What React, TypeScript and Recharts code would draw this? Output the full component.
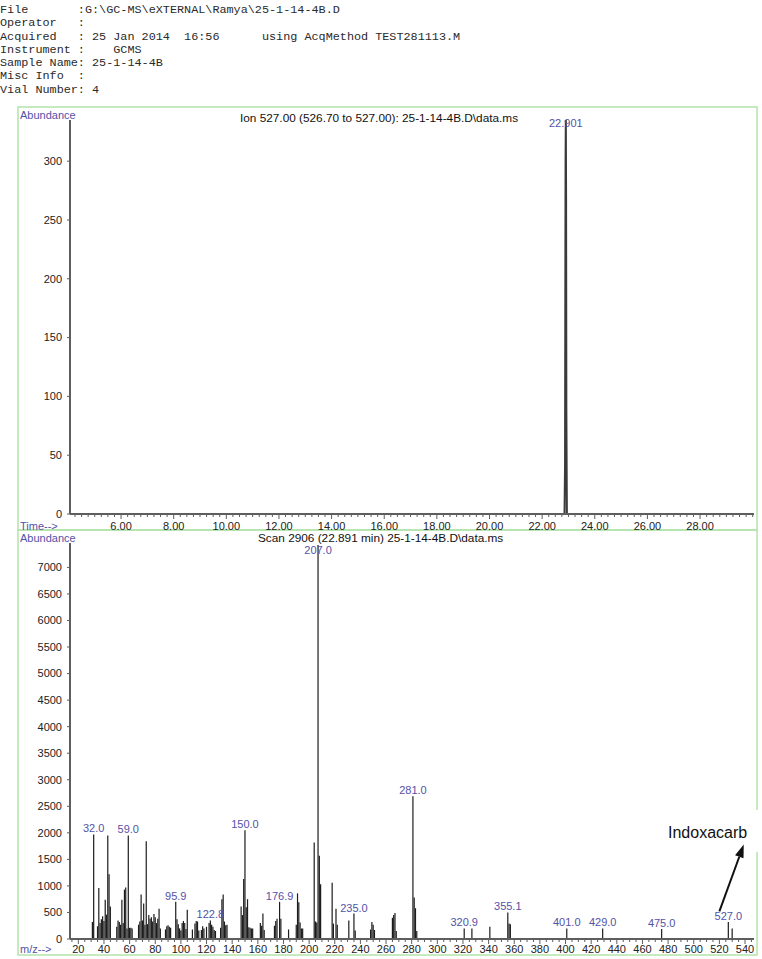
import React from "react";
import {
  Bar,
  ComposedChart,
  LabelList,
  Line,
  ReferenceLine,
  XAxis,
  YAxis,
} from "recharts";

const headerLines = [
  "File       :G:\\GC-MS\\eXTERNAL\\Ramya\\25-1-14-4B.D",
  "Operator   :",
  "Acquired   : 25 Jan 2014  16:56      using AcqMethod TEST281113.M",
  "Instrument :    GCMS",
  "Sample Name: 25-1-14-4B",
  "Misc Info  :",
  "Vial Number: 4",
];

// extracted ion chromatogram, m/z 527
const ionTimes = [4.06, 22.85, 22.87, 22.88, 22.89, 22.9, 22.91, 22.92, 22.94, 30.05];
const ionAbundance = [0, 0, 40, 180, 300, 336, 270, 90, 0, 0];
const ionPeakTime = 22.9;
const ionPeakText = "22.901";
const ionYTicks = [0, 50, 100, 150, 200, 250, 300];
const timeLabels = [6, 8, 10, 12, 14, 16, 18, 20, 22, 24, 26, 28];

// mass spectrum, scan 2906
const mzValues = [
  31, 32, 35, 36, 37, 38, 39, 40, 41, 42, 43, 44, 45, 50, 51, 52, 53, 54, 55, 56,
  57, 58, 59, 60, 61, 62, 67, 68, 69, 70, 71, 72, 73, 74, 75, 76, 77, 78, 79, 80,
  81, 82, 83, 84, 88, 89, 90, 91, 92, 96, 97, 98, 99, 100, 101, 102, 103, 104, 105, 109,
  111, 112, 113, 114, 116, 117, 118, 120, 122, 123, 124, 125, 126, 127, 131, 132, 133, 134, 135, 136,
  147, 148, 149, 150, 151, 152, 153, 154, 155, 156, 162, 163, 164, 165, 173, 174, 175, 177, 178, 184,
  190, 191, 192, 193, 194, 195, 204, 205, 206, 207, 208, 209, 218, 219, 221, 222, 231, 235, 236, 248,
  249, 250, 251, 265, 266, 267, 268, 281, 282, 283, 284, 321, 327, 341, 355, 356, 357, 401, 429, 475,
  527, 530,
];
const mzAbundance = [
  320, 1970, 240, 960, 300, 370, 430, 340, 740, 460, 1950, 1220, 610, 230, 350, 320, 270, 740, 300, 930,
  970, 200, 1950, 210, 210, 200, 270, 330, 840, 350, 670, 270, 1840, 280, 450, 380, 410, 330, 470, 410,
  300, 380, 570, 200, 180, 240, 260, 230, 210, 700, 370, 280, 200, 160, 300, 340, 300, 190, 550, 180,
  290, 340, 330, 160, 170, 240, 200, 230, 300, 350, 270, 230, 170, 150, 210, 750, 840, 330, 260, 270,
  610, 450, 1130, 2050, 600, 750, 220, 210, 200, 200, 300, 250, 480, 170, 250, 340, 380, 700, 380, 180,
  270, 860, 690, 310, 200, 200, 1820, 330, 310, 7420, 1570, 1030, 1060, 290, 570, 270, 350, 480, 160, 180,
  320, 270, 170, 400, 450, 490, 150, 2690, 780, 580, 150, 200, 200, 230, 500, 290, 280, 200, 200, 190,
  320, 200,
];
const labeledMz = [32, 59, 96, 123, 150, 177, 207, 235, 281, 321, 355, 401, 429, 475, 527];
const labeledMzText = [
  "32.0", "59.0", "95.9", "122.8", "150.0", "176.9", "207.0", "235.0",
  "281.0", "320.9", "355.1", "401.0", "429.0", "475.0", "527.0",
];
const specYTicks = [0, 500, 1000, 1500, 2000, 2500, 3000, 3500, 4000, 4500, 5000, 5500, 6000, 6500, 7000];

// arrow pointing at the 527 fragment
const arrowFrom = { x: 520, y: 520 };
const arrowTo = { x: 539, y: 1780 };

const timeTicks: number[] = [];
for (let t = 4.25; t <= 30; t += 0.25) timeTicks.push(Math.round(t * 100) / 100);
const mzTicks: number[] = [];
for (let m = 15; m <= 545; m += 5) mzTicks.push(m);

const ionData = ionTimes.map((time, i) => ({ time, abundance: ionAbundance[i] }));
const spectrum = mzValues.map((mz, i) => ({ mz, abundance: mzAbundance[i] }));

const FONT = "'Liberation Sans', Arial, Helvetica, sans-serif";
const INK = "#222";
const AXIS = "#5e5e5e";
const BLUE = "#5252a8";
const GREEN = "#b2e4aa";

function box(props: any) {
  const vb = props.viewBox ?? {};
  return {
    x: vb.x ?? props.x,
    y: vb.y ?? props.y,
    width: vb.width ?? props.width ?? 0,
  };
}

function YTick({ x, y, payload }: any) {
  return (
    <g>
      <line x1={x - 3} x2={x} y1={y} y2={y} stroke={AXIS} />
      <text x={x - 8} y={y} dy="0.35em" textAnchor="end" fontSize={11} fill={INK} fontFamily={FONT}>
        {payload.value}
      </text>
    </g>
  );
}

function TimeTick({ x, y, payload }: any) {
  const v = payload.value;
  const major = timeLabels.includes(v);
  return (
    <g>
      <line x1={x} x2={x} y1={y} y2={y + (major ? 5 : 3)} stroke={AXIS} />
      {major && (
        <text x={x} y={y + 16} textAnchor="middle" fontSize={11} fill={INK} fontFamily={FONT}>
          {v.toFixed(2)}
        </text>
      )}
    </g>
  );
}

function MzTick({ x, y, payload }: any) {
  const v = payload.value;
  const major = v % 20 === 0;
  return (
    <g>
      <line x1={x} x2={x} y1={y} y2={y + (major ? 5 : 3)} stroke={AXIS} />
      {major && (
        <text x={x} y={y + 14} textAnchor="middle" fontSize={11} fill={INK} fontFamily={FONT}>
          {v}
        </text>
      )}
    </g>
  );
}

const renderIonLabel = (props: any) => {
  if (Number(props.value) !== ionPeakTime) return null;
  const b = box(props);
  return (
    <text x={b.x} y={Math.max(b.y - 2, 27)} textAnchor="middle" fontSize={11} fill={BLUE} fontFamily={FONT}>
      {ionPeakText}
    </text>
  );
};

const renderMzLabel = (props: any) => {
  const idx = labeledMz.indexOf(Number(props.value));
  if (idx < 0) return null;
  const b = box(props);
  return (
    <text
      x={b.x + b.width / 2}
      y={Math.max(b.y - 2, 34)}
      textAnchor="middle"
      fontSize={11}
      fill={BLUE}
      fontFamily={FONT}
    >
      {labeledMzText[idx]}
    </text>
  );
};

function Arrow(props: any) {
  const { x1, y1, x2, y2 } = props;
  const dx = x2 - x1;
  const dy = y2 - y1;
  const len = Math.hypot(dx, dy) || 1;
  const ux = dx / len;
  const uy = dy / len;
  const head = 13;
  const half = 4.5;
  const bx = x2 - ux * head;
  const by = y2 - uy * head;
  return (
    <g>
      <line x1={x1} y1={y1} x2={bx} y2={by} stroke="#111" strokeWidth={2} />
      <polygon
        points={`${x2},${y2} ${bx - uy * half},${by + ux * half} ${bx + uy * half},${by - ux * half}`}
        fill="#111"
      />
    </g>
  );
}

export default function App() {
  return (
    <div
      style={{
        position: "absolute",
        left: 0,
        top: 0,
        width: 762,
        height: 959,
        overflow: "hidden",
        background: "#fff",
      }}
    >
      <div
        style={{
          position: "absolute",
          left: 0,
          top: 4,
          font: "11.8px/13.3px 'Liberation Mono', monospace",
          color: "#2a2a2a",
          whiteSpace: "pre",
        }}
      >
        {headerLines.map((line) => (
          <div key={line}>{line}</div>
        ))}
      </div>

      <svg width={762} height={959} style={{ position: "absolute", left: 0, top: 0 }}>
        <rect x={18} y={107} width={739} height={423} fill="none" stroke={GREEN} strokeWidth={1.5} />
        <rect x={18} y={530} width={739} height={425} fill="none" stroke={GREEN} strokeWidth={1.5} />
        <rect x={655} y={810} width={107} height={42} fill="#fff" />
        <text x={668} y={838} fontSize={16} fill="#111" fontFamily={FONT}>
          Indoxacarb
        </text>
        <g fontFamily={FONT} fontSize={11} fill={BLUE}>
          <text x={20} y={118.5}>Abundance</text>
          <text x={20} y={530}>Time--&gt;</text>
          <text x={20} y={542}>Abundance</text>
          <text x={20} y={953}>m/z--&gt;</text>
        </g>
        <g fontFamily={FONT} fontSize={11.8} fill="#111">
          <text x={240} y={121.5}>Ion 527.00 (526.70 to 527.00): 25-1-14-4B.D\data.ms</text>
          <text x={258} y={542}>Scan 2906 (22.891 min) 25-1-14-4B.D\data.ms</text>
        </g>
      </svg>

      <div style={{ position: "absolute", left: 0, top: 100 }}>
        <ComposedChart
          width={762}
          height={440}
          data={ionData}
          margin={{ top: 20, right: 8, bottom: 6, left: 0 }}
        >
          <XAxis
            dataKey="time"
            type="number"
            domain={[4.06, 30.05]}
            allowDataOverflow
            ticks={timeTicks}
            interval={0}
            tickSize={0}
            tickMargin={0}
            tick={(p: any) => <TimeTick {...p} />}
            axisLine={{ stroke: AXIS, strokeWidth: 2 }}
            height={20}
          />
          <YAxis
            type="number"
            domain={[0, 335]}
            allowDataOverflow
            ticks={ionYTicks}
            interval={0}
            tickSize={0}
            tickMargin={0}
            tick={(p: any) => <YTick {...p} />}
            axisLine={{ stroke: AXIS, strokeWidth: 2 }}
            width={70}
          />
          <Line
            dataKey="abundance"
            type="linear"
            stroke="#3a3a3a"
            strokeWidth={2}
            dot={false}
            isAnimationActive={false}
          >
            <LabelList dataKey="time" content={renderIonLabel} />
          </Line>
          <ReferenceLine
            segment={[
              { x: 22.86, y: 0 },
              { x: 22.94, y: 0 },
            ]}
            stroke="#e06a6a"
            strokeWidth={2}
          />
        </ComposedChart>
      </div>

      <div style={{ position: "absolute", left: 0, top: 520 }}>
        <ComposedChart
          width={762}
          height={435}
          data={spectrum}
          margin={{ top: 23, right: 8, bottom: 2, left: 0 }}
        >
          <XAxis
            dataKey="mz"
            type="number"
            domain={[13.5, 547]}
            allowDataOverflow
            ticks={mzTicks}
            interval={0}
            tickSize={0}
            tickMargin={0}
            tick={(p: any) => <MzTick {...p} />}
            axisLine={{ stroke: AXIS, strokeWidth: 2 }}
            height={14}
          />
          <YAxis
            type="number"
            domain={[0, 7460]}
            allowDataOverflow
            ticks={specYTicks}
            interval={0}
            tickSize={0}
            tickMargin={0}
            tick={(p: any) => <YTick {...p} />}
            axisLine={{ stroke: AXIS, strokeWidth: 2 }}
            width={70}
          />
          <Bar dataKey="abundance" fill="#1c1c1c" barSize={1.2} isAnimationActive={false}>
            <LabelList dataKey="mz" content={renderMzLabel} />
          </Bar>
          <ReferenceLine segment={[arrowFrom, arrowTo]} shape={(p: any) => <Arrow {...p} />} />
        </ComposedChart>
      </div>
    </div>
  );
}
